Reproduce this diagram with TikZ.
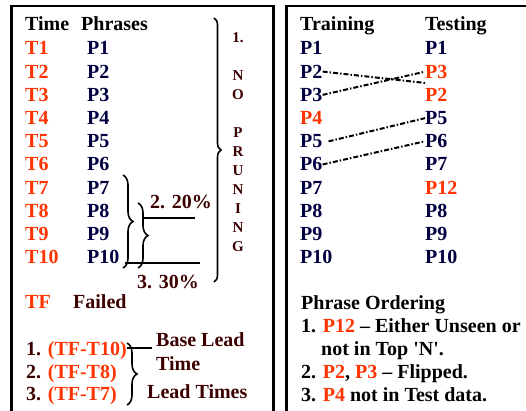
\documentclass[tikz,border=0pt]{standalone}
\usepackage{fontspec}
\setmainfont{Liberation Serif}
\usetikzlibrary{decorations.pathreplacing}
\definecolor{hot}{RGB}{255,51,0}
\definecolor{ink}{RGB}{0,0,64}
\definecolor{mar}{RGB}{60,0,0}

\begin{document}
\begin{tikzpicture}[x=1pt, y=-1pt,
	font=\bfseries\fontsize{20}{24}\selectfont,
	txt/.style={anchor=base west, inner sep=0pt},
	tm/.style={txt, text=hot},
	ph/.style={txt, text=ink},
	lbl/.style={txt, text=mar},
	frame/.style={line width=2.5pt},
	brc/.style={decorate, decoration={brace, amplitude=#1}, line width=1.6pt},
	swap/.style={line width=2pt, dash pattern=on 5pt off 2pt on 1.5pt off 2pt}]
	\useasboundingbox (0,0) rectangle (526,411);
	\clip (0,0) rectangle (526,411);

	% two panels, both run off the page
	\draw[frame] (11.5,6) rectangle (273.5,430);
	\draw[frame] (286.5,6) rectangle (540,430);

	% left panel: time stamps and phrases
	\node[txt] (time) at (25,31) {Time};
	\node[txt] (phr) at (81,31) {Phrases};
	\foreach \i in {1,...,10} {
		\node[tm] (t\i) at (25,{55+23.2*(\i-1)}) {T\i};
		\node[ph] (p\i) at (87,{55+23.2*(\i-1)}) {P\i};
	}
	\node[tm] (tf) at (25,308) {TF};
	\node[lbl] (fail) at (73,308) {Failed};

	% no pruning
	\coordinate (b1a) at (214,18);
	\coordinate (b1b) at (214,282);
	\draw[brc=7pt] (b1a) -- (b1b);
	\node[text=mar, align=center, anchor=north, inner sep=0pt,
		font=\bfseries\fontsize{15}{19}\selectfont] (nopr) at (238,32)
		{1.\\[19pt]N\\O\\[19pt]P\\R\\U\\N\\I\\N\\G};

	% 20% and 30%
	\coordinate (b2a) at (123,175);
	\coordinate (b2b) at (123,268);
	\coordinate (b3a) at (138,203);
	\coordinate (b3b) at (138,268);
	\draw[brc=10pt] (b2a) -- (b2b);
	\draw[brc=10pt] (b3a) -- (b3b);
	\coordinate (l2a) at (143,218);
	\coordinate (l2b) at (195,218);
	\coordinate (l3a) at (125,263);
	\coordinate (l3b) at (200,263);
	\draw[line width=1.6pt] (l2a) -- (l2b);
	\draw[line width=1.6pt] (l3a) -- (l3b);
	\node[lbl] (pc20) at (150,208) {2. 20\%};
	\node[lbl] (pc30) at (137,288) {3. 30\%};

	% lead times
	\node[lbl] (lt1) at (26,355) {1. \textcolor{hot}{(TF-T10)}};
	\node[lbl] (lt2) at (26,378) {2. \textcolor{hot}{(TF-T8)}};
	\node[lbl] (lt3) at (26,400) {3. \textcolor{hot}{(TF-T7)}};
	\coordinate (b4a) at (127,343);
	\coordinate (b4b) at (127,405);
	\draw[brc=10pt] (b4a) -- (b4b);
	\coordinate (l4a) at (127,348);
	\coordinate (l4b) at (152,348);
	\draw[line width=1.6pt] (l4a) -- (l4b);
	\node[lbl, align=left, anchor=north west] (base) at (156,332) {Base Lead\\Time};
	\node[lbl] (lead) at (147,398) {Lead Times};

	% right panel: training vs testing order
	\node[txt] (train) at (300,31) {Training};
	\node[txt] (test) at (425,31) {Testing};
	\foreach \i/\s in {1/ph,2/ph,3/ph,4/tm,5/ph,6/ph,7/ph,8/ph,9/ph,10/ph}
		\node[\s] (tr\i) at (300,{55+23.2*(\i-1)}) {P\i};
	\foreach \i/\p/\s in {1/1/ph,2/3/tm,3/2/tm,4/5/ph,5/6/ph,6/7/ph,7/12/tm,8/8/ph,9/9/ph,10/10/ph}
		\node[\s] (ts\i) at (425,{55+23.2*(\i-1)}) {P\p};

	\draw[swap] (tr2.east) -- ([yshift=5pt]ts3.north west);
	\draw[swap] (tr3.east) -- (ts2.west);
	\draw[swap] ([xshift=6pt]tr5.east) -- (ts4.west);
	\draw[swap] (tr6.east) -- (ts5.west);

	% notes
	\node[txt] (ord) at (301,309) {Phrase Ordering};
	\node[txt] (o1) at (301,332) {1. \textcolor{hot}{P12} -- Either Unseen or};
	\node[txt] (o1b) at (321,355) {not in Top \textquotesingle N\textquotesingle.};
	\node[txt] (o2) at (301,378) {2. \textcolor{hot}{P2}, \textcolor{hot}{P3} -- Flipped.};
	\node[txt] (o3) at (301,401) {3. \textcolor{hot}{P4} not in Test data.};
\end{tikzpicture}
\end{document}
